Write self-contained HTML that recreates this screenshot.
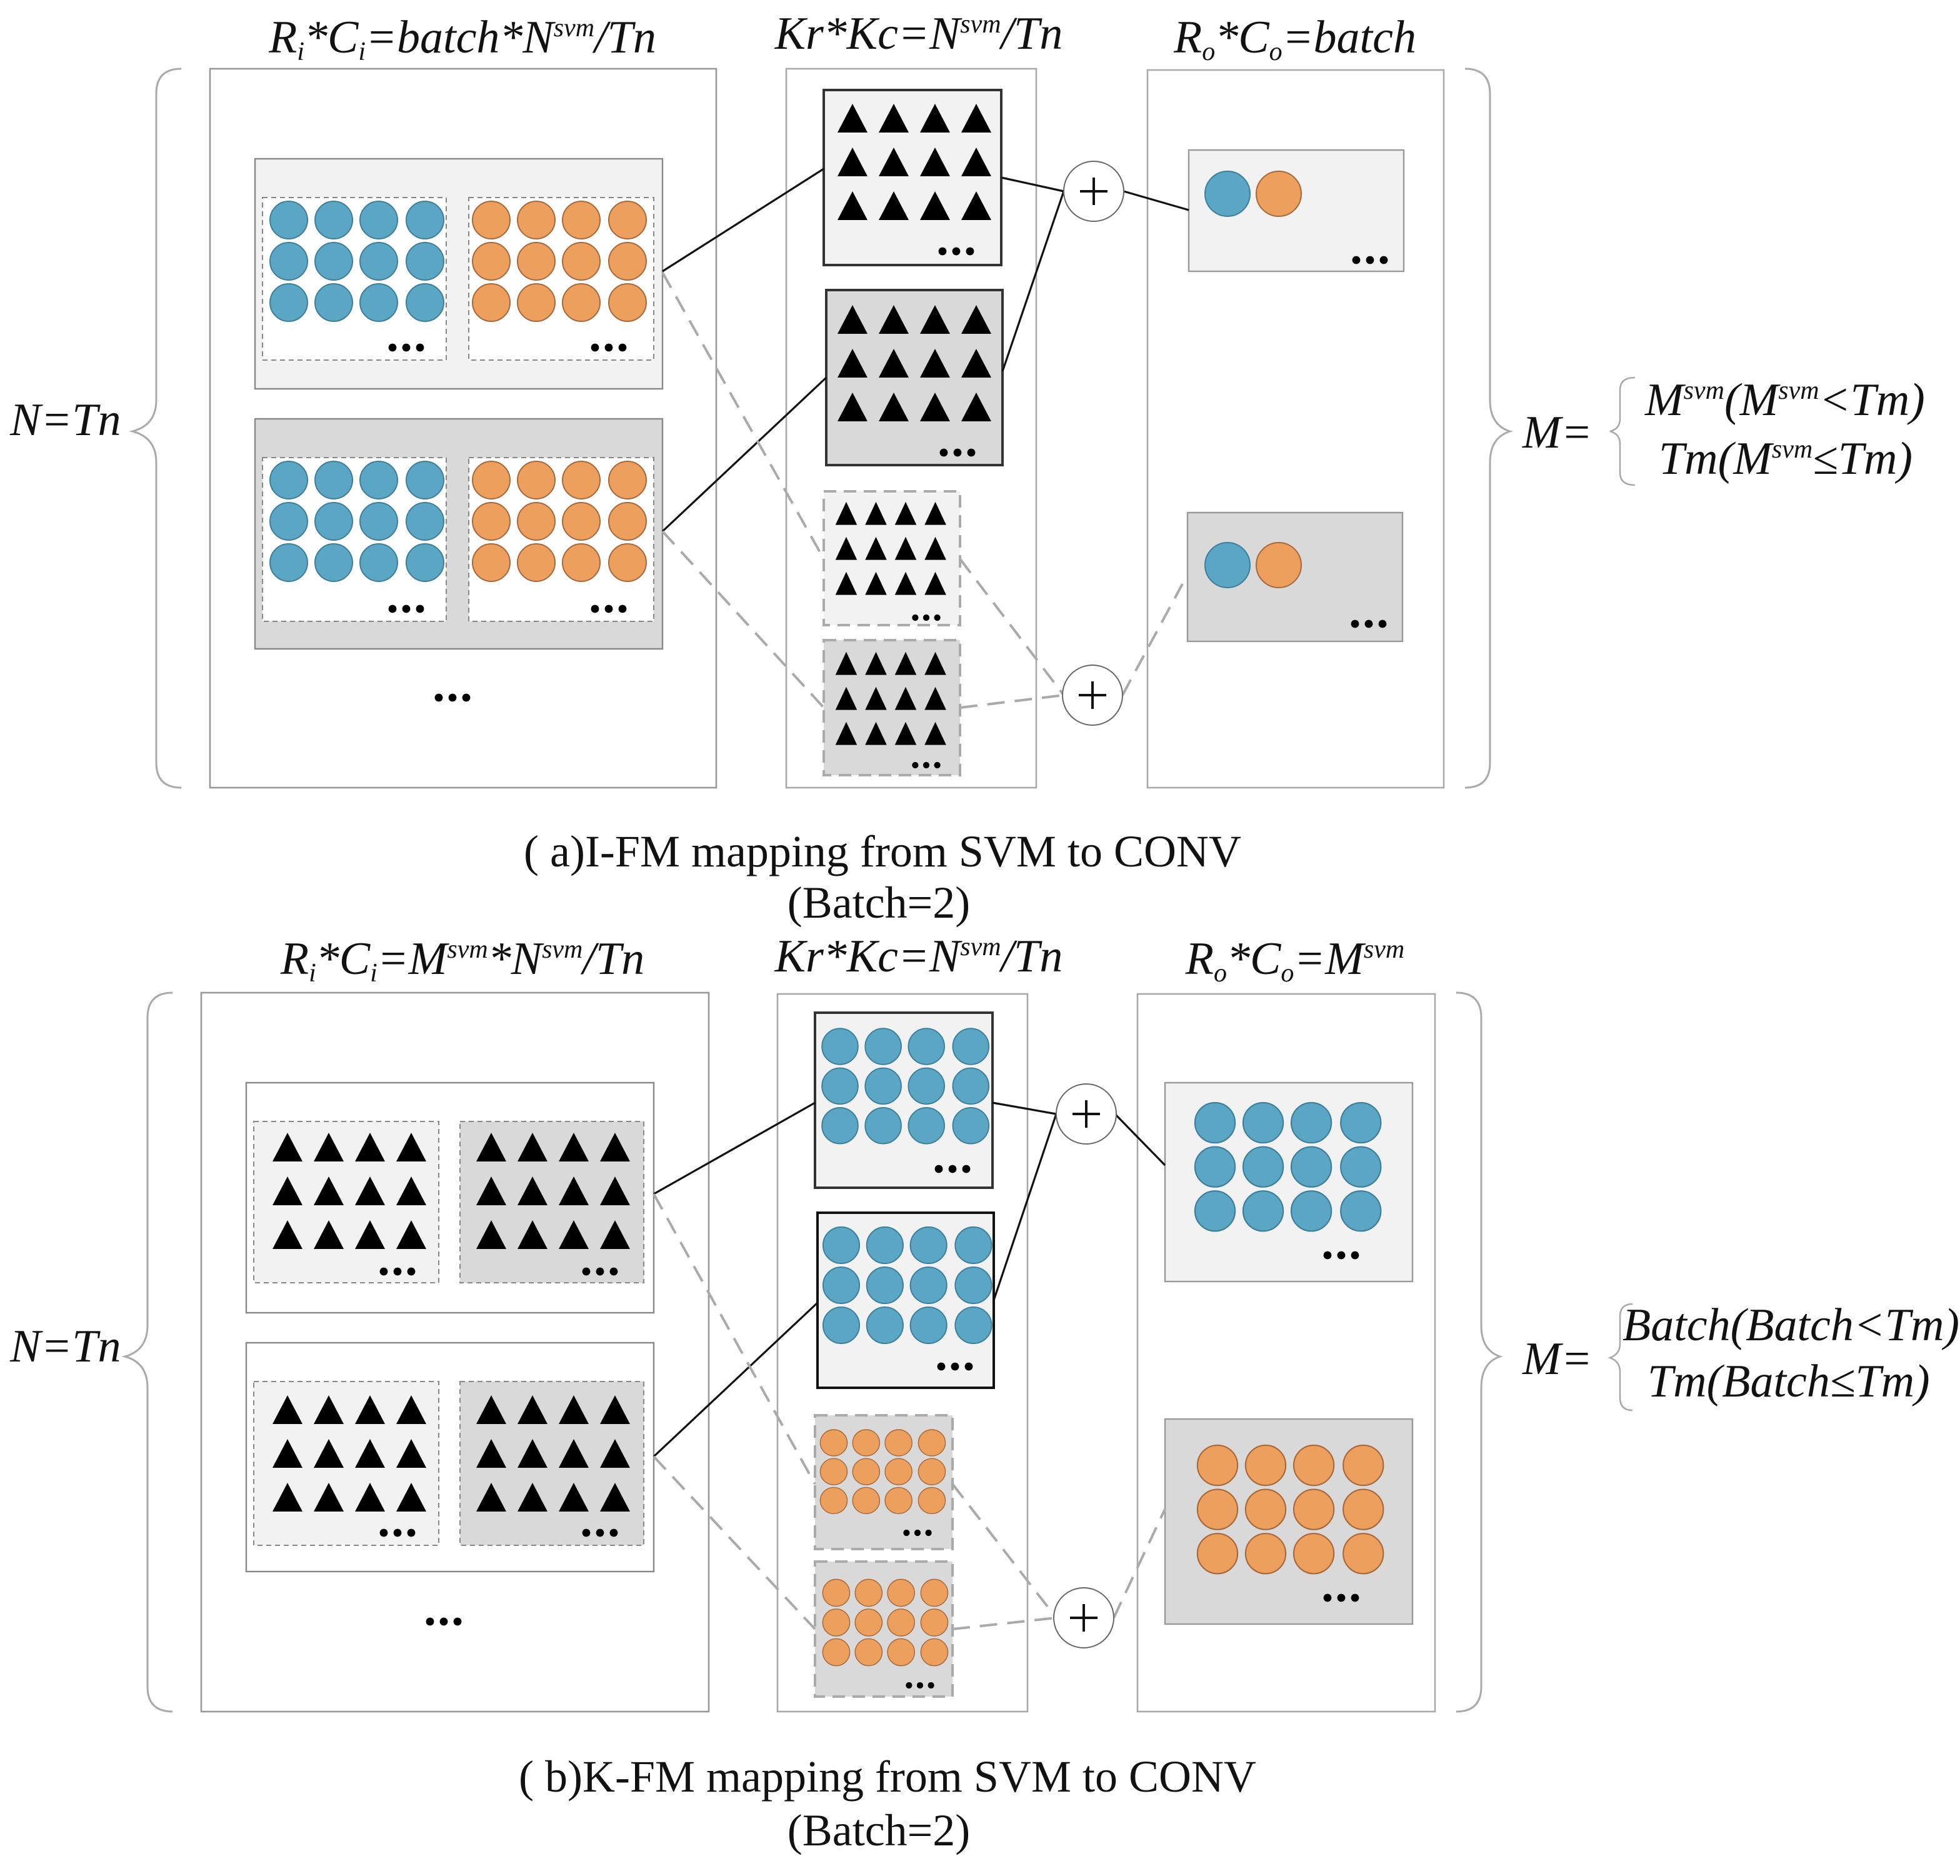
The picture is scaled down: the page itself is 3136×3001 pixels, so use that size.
<!DOCTYPE html>
<html><head><meta charset="utf-8"><style>
html,body{margin:0;padding:0;background:#fff}
svg{display:block}
.t{font-family:"Liberation Serif",serif;font-style:italic;font-size:37px;fill:#111}
.c{font-family:"Liberation Serif",serif;font-size:36px;fill:#111}
.s{font-size:21px}
</style></head><body>
<svg width="3136" height="3001" viewBox="0 0 1568 1500.5" xmlns="http://www.w3.org/2000/svg">
<defs>
<path id="tri" d="M-12,11 L12,11 L0,-12 Z" fill="#000"/>
<g id="t12">
<use href="#tri" x="0" y="0"/><use href="#tri" x="33" y="0"/><use href="#tri" x="66" y="0"/><use href="#tri" x="99" y="0"/>
<use href="#tri" x="0" y="35"/><use href="#tri" x="33" y="35"/><use href="#tri" x="66" y="35"/><use href="#tri" x="99" y="35"/>
<use href="#tri" x="0" y="70"/><use href="#tri" x="33" y="70"/><use href="#tri" x="66" y="70"/><use href="#tri" x="99" y="70"/>
</g>
<circle id="cB" r="15" fill="#5ba6c4" stroke="#3b7f9b" stroke-width="1"/>
<circle id="cO" r="15" fill="#eda05d" stroke="#a8683a" stroke-width="1"/>
<g id="gB">
<use href="#cB" x="0" y="0"/><use href="#cB" x="36" y="0"/><use href="#cB" x="72" y="0"/><use href="#cB" x="109" y="0"/>
<use href="#cB" x="0" y="33"/><use href="#cB" x="36" y="33"/><use href="#cB" x="72" y="33"/><use href="#cB" x="109" y="33"/>
<use href="#cB" x="0" y="66"/><use href="#cB" x="36" y="66"/><use href="#cB" x="72" y="66"/><use href="#cB" x="109" y="66"/>
</g>
<g id="gO">
<use href="#cO" x="0" y="0"/><use href="#cO" x="36" y="0"/><use href="#cO" x="72" y="0"/><use href="#cO" x="109" y="0"/>
<use href="#cO" x="0" y="33"/><use href="#cO" x="36" y="33"/><use href="#cO" x="72" y="33"/><use href="#cO" x="109" y="33"/>
<use href="#cO" x="0" y="66"/><use href="#cO" x="36" y="66"/><use href="#cO" x="72" y="66"/><use href="#cO" x="109" y="66"/>
</g>
<g id="dots"><circle cx="-11" cy="0" r="3.2"/><circle cx="0" cy="0" r="3.2"/><circle cx="11" cy="0" r="3.2"/></g>
<g id="plus"><circle r="24" fill="#fff" stroke="#666" stroke-width="1"/><path d="M-11,0H11M0,-11V11" stroke="#111" stroke-width="2"/></g>
</defs>

<!-- ================= PART A ================= -->
<text class="t" x="370" y="42" text-anchor="middle">R<tspan class="s" dy="6">i</tspan><tspan dy="-6">*C</tspan><tspan class="s" dy="6">i</tspan><tspan dy="-6">=batch*N</tspan><tspan class="s" dy="-13">svm</tspan><tspan dy="13">/Tn</tspan></text>
<text class="t" x="735" y="39" text-anchor="middle">Kr*Kc=N<tspan class="s" dy="-13">svm</tspan><tspan dy="13">/Tn</tspan></text>
<text class="t" x="1036" y="42" text-anchor="middle">R<tspan class="s" dy="6">o</tspan><tspan dy="-6">*C</tspan><tspan class="s" dy="6">o</tspan><tspan dy="-6">=batch</tspan></text>

<path d="M145,55 Q125,55 125,75 V320 Q125,340 106,345 Q125,350 125,370 V610 Q125,630 145,630" fill="none" stroke="#aaa" stroke-width="1.5"/>
<text class="t" x="8" y="348">N=Tn</text>
<path d="M1172,55 Q1192,55 1192,75 V320 Q1192,340 1208,345 Q1192,350 1192,370 V610 Q1192,630 1172,630" fill="none" stroke="#aaa" stroke-width="1.5"/>
<text class="t" x="1218" y="358">M=</text>
<path d="M1308,302 Q1296,302 1296,312 V335 Q1296,343 1288,345 Q1296,347 1296,355 V378 Q1296,388 1308,388" fill="none" stroke="#aaa" stroke-width="1.3"/>
<text class="t" x="1316" y="332">M<tspan class="s" dy="-13">svm</tspan><tspan dy="13">(M</tspan><tspan class="s" dy="-13">svm</tspan><tspan dy="13">&lt;Tm)</tspan></text>
<text class="t" x="1327" y="379">Tm(M<tspan class="s" dy="-13">svm</tspan><tspan dy="13">≤Tm)</tspan></text>

<rect x="168" y="55" width="405" height="575" fill="#fff" stroke="#999" stroke-width="1.3"/>
<rect x="629" y="55" width="200" height="575" fill="#fff" stroke="#aaa" stroke-width="1.3"/>
<rect x="918" y="56" width="237" height="574" fill="#fff" stroke="#aaa" stroke-width="1.3"/>

<rect x="204" y="127" width="326" height="184" fill="#f2f2f2" stroke="#888" stroke-width="1.2"/>
<rect x="210" y="158" width="147" height="130" fill="#fff" stroke="#888" stroke-dasharray="4,3"/>
<rect x="375" y="158" width="148" height="130" fill="#fff" stroke="#888" stroke-dasharray="4,3"/>
<use href="#gB" x="231" y="176"/><use href="#gO" x="393" y="176"/>
<use href="#dots" x="325" y="278"/><use href="#dots" x="487" y="278"/>

<rect x="204" y="335" width="326" height="184" fill="#d9d9d9" stroke="#888" stroke-width="1.2"/>
<rect x="210" y="366" width="147" height="131" fill="#fff" stroke="#888" stroke-dasharray="4,3"/>
<rect x="375" y="366" width="148" height="131" fill="#fff" stroke="#888" stroke-dasharray="4,3"/>
<use href="#gB" x="231" y="384"/><use href="#gO" x="393" y="384"/>
<use href="#dots" x="325" y="487"/><use href="#dots" x="487" y="487"/>
<use href="#dots" x="362" y="558"/>

<rect x="659" y="72" width="142" height="140" fill="#f2f2f2" stroke="#333" stroke-width="2"/>
<use href="#t12" x="682" y="95"/><use href="#dots" x="765" y="201"/>
<rect x="661" y="232" width="141" height="140" fill="#d9d9d9" stroke="#333" stroke-width="2"/>
<use href="#t12" x="682" y="256"/><use href="#dots" x="766" y="362"/>
<rect x="659" y="393" width="109" height="107" fill="#f2f2f2" stroke="#aaa" stroke-width="2" stroke-dasharray="10,6"/>
<use href="#t12" transform="translate(677,411) scale(0.72,0.8)"/><use href="#dots" transform="translate(741,494) scale(0.8)"/>
<rect x="659" y="512" width="109" height="108" fill="#d9d9d9" stroke="#aaa" stroke-width="2" stroke-dasharray="10,6"/>
<use href="#t12" transform="translate(677,531) scale(0.72,0.8)"/><use href="#dots" transform="translate(741,612) scale(0.8)"/>

<rect x="951" y="120" width="172" height="97" fill="#f2f2f2" stroke="#999" stroke-width="1.2"/>
<circle cx="982" cy="155" r="18" fill="#5ba6c4" stroke="#3b7f9b"/><circle cx="1023" cy="155" r="18" fill="#eda05d" stroke="#a8683a"/>
<use href="#dots" x="1096" y="208"/>
<rect x="950" y="410" width="172" height="103" fill="#d9d9d9" stroke="#999" stroke-width="1.2"/>
<circle cx="982" cy="452" r="18" fill="#5ba6c4" stroke="#3b7f9b"/><circle cx="1023" cy="452" r="18" fill="#eda05d" stroke="#a8683a"/>
<use href="#dots" x="1095" y="499"/>

<g stroke="#111" stroke-width="1.6" fill="none">
<path d="M530,217 L659,135"/><path d="M530,425 L661,302"/>
<path d="M801,142 L851,153"/><path d="M802,297 L851,153"/><path d="M899,153 L951,168"/>
</g>
<g stroke="#aaa" stroke-width="2" fill="none" stroke-dasharray="14,8">
<path d="M530,218 L659,447"/><path d="M530,425 L659,566"/>
<path d="M768,447 L851,556"/><path d="M768,566 L851,556"/><path d="M898,556 L946,467"/>
</g>
<use href="#plus" x="875" y="153"/><use href="#plus" x="874" y="556"/>

<text class="c" x="706" y="693" text-anchor="middle">( a)I-FM mapping from SVM to CONV</text>
<text class="c" x="703" y="734" text-anchor="middle">(Batch=2)</text>

<!-- ================= PART B ================= -->
<text class="t" x="370" y="779" text-anchor="middle">R<tspan class="s" dy="6">i</tspan><tspan dy="-6">*C</tspan><tspan class="s" dy="6">i</tspan><tspan dy="-6">=M</tspan><tspan class="s" dy="-13">svm</tspan><tspan dy="13">*N</tspan><tspan class="s" dy="-13">svm</tspan><tspan dy="13">/Tn</tspan></text>
<text class="t" x="735" y="777" text-anchor="middle">Kr*Kc=N<tspan class="s" dy="-13">svm</tspan><tspan dy="13">/Tn</tspan></text>
<text class="t" x="1036" y="779" text-anchor="middle">R<tspan class="s" dy="6">o</tspan><tspan dy="-6">*C</tspan><tspan class="s" dy="6">o</tspan><tspan dy="-6">=M</tspan><tspan class="s" dy="-13">svm</tspan></text>

<path d="M138,794 Q118,794 118,814 V1060 Q118,1080 100,1085 Q118,1090 118,1110 V1349 Q118,1369 138,1369" fill="none" stroke="#aaa" stroke-width="1.5"/>
<text class="t" x="8" y="1089">N=Tn</text>
<path d="M1165,794 Q1185,794 1185,814 V1060 Q1185,1080 1200,1085 Q1185,1090 1185,1110 V1349 Q1185,1369 1165,1369" fill="none" stroke="#aaa" stroke-width="1.5"/>
<text class="t" x="1218" y="1099">M=</text>
<path d="M1306,1043 Q1296,1043 1296,1053 V1075 Q1296,1083 1288,1086 Q1296,1089 1296,1097 V1118 Q1296,1128 1306,1128" fill="none" stroke="#aaa" stroke-width="1.3"/>
<text class="t" x="1298" y="1072">Batch(Batch&lt;Tm)</text>
<text class="t" x="1318" y="1117">Tm(Batch≤Tm)</text>

<rect x="161" y="794" width="406" height="575" fill="#fff" stroke="#999" stroke-width="1.3"/>
<rect x="622" y="795" width="200" height="574" fill="#fff" stroke="#aaa" stroke-width="1.3"/>
<rect x="910" y="795" width="238" height="574" fill="#fff" stroke="#aaa" stroke-width="1.3"/>

<rect x="197" y="866" width="326" height="184" fill="#fff" stroke="#888" stroke-width="1.2"/>
<rect x="203" y="897" width="148" height="129" fill="#f2f2f2" stroke="#888" stroke-dasharray="4,3"/>
<rect x="368" y="897" width="147" height="129" fill="#d9d9d9" stroke="#888" stroke-dasharray="4,3"/>
<use href="#t12" x="230" y="918"/><use href="#t12" x="393" y="918"/>
<use href="#dots" x="318" y="1017"/><use href="#dots" x="480" y="1017"/>

<rect x="197" y="1074" width="326" height="183" fill="#fff" stroke="#888" stroke-width="1.2"/>
<rect x="203" y="1105" width="148" height="131" fill="#f2f2f2" stroke="#888" stroke-dasharray="4,3"/>
<rect x="368" y="1105" width="147" height="131" fill="#d9d9d9" stroke="#888" stroke-dasharray="4,3"/>
<use href="#t12" x="230" y="1128"/><use href="#t12" x="393" y="1128"/>
<use href="#dots" x="318" y="1226"/><use href="#dots" x="480" y="1226"/>
<use href="#dots" x="355" y="1297"/>

<rect x="652" y="810" width="142" height="140" fill="#f2f2f2" stroke="#333" stroke-width="2"/>
<use href="#gB" transform="translate(672,837) scale(0.96)"/><use href="#dots" x="762" y="935"/>
<rect x="654" y="970" width="141" height="140" fill="#f2f2f2" stroke="#111" stroke-width="2"/>
<use href="#gB" transform="translate(673,996) scale(0.97)"/><use href="#dots" x="764" y="1093"/>
<rect x="652" y="1132" width="110" height="107" fill="#d9d9d9" stroke="#aaa" stroke-width="2" stroke-dasharray="10,6"/>
<use href="#gO" transform="translate(667,1154) scale(0.72,0.7)"/><use href="#dots" transform="translate(734,1226) scale(0.8)"/>
<rect x="652" y="1249" width="110" height="108" fill="#d9d9d9" stroke="#aaa" stroke-width="2" stroke-dasharray="10,6"/>
<use href="#gO" transform="translate(669,1274) scale(0.72,0.72)"/><use href="#dots" transform="translate(736,1348) scale(0.8)"/>

<rect x="932" y="866" width="198" height="159" fill="#f2f2f2" stroke="#999" stroke-width="1.2"/>
<use href="#gB" transform="translate(972,898) scale(1.07)"/><use href="#dots" x="1073" y="1004"/>
<rect x="932" y="1135" width="198" height="164" fill="#d9d9d9" stroke="#999" stroke-width="1.2"/>
<use href="#gO" transform="translate(974,1172) scale(1.07)"/><use href="#dots" x="1073" y="1278"/>

<g stroke="#111" stroke-width="1.6" fill="none">
<path d="M523,955 L652,882"/><path d="M523,1165 L654,1042"/>
<path d="M794,882 L845,891"/><path d="M795,1040 L845,891"/><path d="M892,891 L932,932"/>
</g>
<g stroke="#aaa" stroke-width="2" fill="none" stroke-dasharray="14,8">
<path d="M523,955 L652,1187"/><path d="M523,1165 L652,1303"/>
<path d="M762,1187 L845,1294"/><path d="M762,1303 L845,1294"/><path d="M891,1294 L932,1207"/>
</g>
<use href="#plus" x="869" y="891"/><use href="#plus" x="867" y="1294"/>

<text class="c" x="710" y="1433" text-anchor="middle">( b)K-FM mapping from SVM to CONV</text>
<text class="c" x="703" y="1476" text-anchor="middle">(Batch=2)</text>
</svg>
</body></html>
